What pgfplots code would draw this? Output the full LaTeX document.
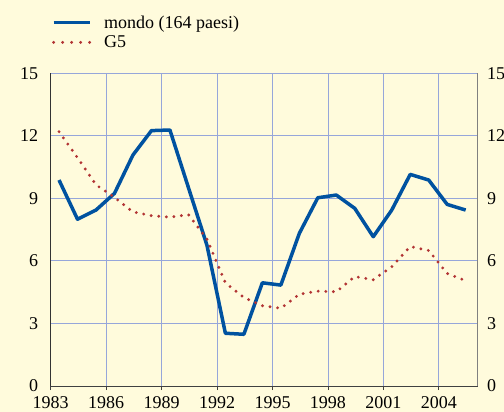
\documentclass[border=0pt]{standalone}
\usepackage{fontspec}
\setmainfont{Liberation Serif}
\usepackage{pgfplots}
\pgfplotsset{compat=1.18}
\definecolor{bg}{RGB}{255,251,220}
\definecolor{gridc}{RGB}{150,166,218}
\definecolor{mblue}{RGB}{0,82,160}
\definecolor{g5red}{RGB}{178,52,52}
\begin{document}
\begin{tikzpicture}
\fill[bg] (0,0) rectangle (504bp,412bp);
\begin{axis}[
  at={(50.7bp,26bp)}, anchor=south west,
  scale only axis, width=427bp, height=312.7bp,
  xmin=1983, xmax=2006.1, ymin=0, ymax=15,
  xtick={1983,1986,...,2004}, ytick={0,3,...,15},
  grid=major, major grid style={gridc, line width=0.9bp},
  axis x line*=bottom, axis y line*=left,
  x axis line style={-, black!75, line width=1bp},
  y axis line style={-, black!80, line width=1bp},
  xtick style={black!75, line width=0.8bp}, tick align=outside, major tick length=4bp,
  ytick style={draw=none},
  /pgf/number format/assume math mode=true,
  /pgf/number format/1000 sep={},
  tick label style={font=\fontsize{18bp}{20bp}\selectfont},
  xticklabel style={yshift=-3bp},
  yticklabel style={xshift=-5bp},
  legend style={at={(0,1)}, anchor=south west, xshift=-2bp, yshift=20bp, draw=none, fill=none,
    font=\fontsize{18bp}{20bp}\selectfont, row sep=2bp, column sep=10bp},
  legend cell align=left,
]
\addplot[mblue, line width=3.5bp, line join=round,
  legend image code/.code={\draw[mblue, line width=3.5bp] (0bp,0bp) -- (36bp,0bp);}]
  table[x=year, y=mondo] {
year mondo
1983.45 9.88
1984.45 8.00
1985.45 8.44
1986.45 9.24
1987.45 11.08
1988.45 12.25
1989.45 12.28
1990.45 9.52
1991.45 6.76
1992.45 2.53
1993.45 2.48
1994.45 4.95
1995.45 4.84
1996.45 7.32
1997.45 9.03
1998.45 9.16
1999.45 8.52
2000.45 7.16
2001.45 8.44
2002.45 10.15
2003.45 9.88
2004.45 8.71
2005.45 8.44
};
\addlegendentry{mondo (164 paesi)}
\addplot[g5red, line width=3.2bp, line cap=round, dash pattern=on 0bp off 7.6bp,
  legend image code/.code={\draw[g5red, line width=3.2bp, line cap=round, dash pattern=on 0bp off 9bp] (0bp,0bp) -- (37bp,0bp);}]
  table[x=year, y=g5] {
year g5
1983.45 12.20
1984.45 10.95
1985.45 9.65
1986.45 9.05
1987.45 8.35
1988.45 8.17
1989.45 8.10
1990.45 8.22
1991.45 7.05
1992.45 4.95
1993.45 4.25
1994.45 3.85
1995.45 3.73
1996.45 4.40
1997.45 4.55
1998.45 4.52
1999.45 5.25
2000.45 5.10
2001.45 5.72
2002.45 6.69
2003.45 6.50
2004.45 5.40
2005.45 5.05
};
\addlegendentry{G5}
\end{axis}
\begin{axis}[
  at={(50.7bp,26bp)}, anchor=south west,
  scale only axis, width=427bp, height=312.7bp,
  xmin=1983, xmax=2006.1, ymin=0, ymax=15,
  ytick={0,3,...,15},
  axis x line=none, axis y line*=right,
  y axis line style={-, black!50, line width=1bp},
  ytick style={draw=none},
  /pgf/number format/assume math mode=true,
  tick label style={font=\fontsize{18bp}{20bp}\selectfont},
  yticklabel style={xshift=6bp},
]
\end{axis}
\pgfresetboundingbox
\path[use as bounding box] (0,0) rectangle (504bp,412bp);
\end{tikzpicture}
\end{document}
